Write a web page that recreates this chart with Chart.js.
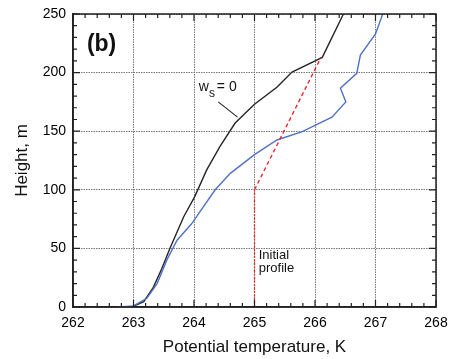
<!DOCTYPE html>
<html>
<head>
<meta charset="utf-8">
<script src="https://cdn.jsdelivr.net/npm/chart.js@4/dist/chart.umd.min.js"></script>
<style>
html,body{margin:0;padding:0;background:#fff;}
#wrap{width:452px;height:359px;}
</style>
</head>
<body>
<div id="wrap"><canvas id="c" width="452" height="359"></canvas></div>
<script>
// ---- data ----
const xTicks = [262, 263, 264, 265, 266, 267, 268];
const yTicks = [0, 50, 100, 150, 200, 250];

const blackX = [262.97, 263.17, 263.33, 263.47, 263.61, 263.83, 264.01, 264.21, 264.43, 264.68, 265.0, 265.37, 265.62, 266.12, 266.47];
const blackY = [0, 4.5, 17, 33, 51, 77, 94, 117, 137, 157, 173, 187.5, 200.5, 213, 250];

const blueX = [262.75, 263.0, 263.22, 263.39, 263.55, 263.72, 263.96, 264.35, 264.6, 265.0, 265.37, 265.79, 266.0, 266.28, 266.51, 266.42, 266.69, 266.75, 267.0, 267.12];
const blueY = [0, 1, 7.4, 20, 40, 57, 71, 100, 114, 130, 142.5, 149.6, 155, 162, 175, 186.6, 199.4, 215, 233, 250];

const initLowX = [265, 265];
const initLowY = [0, 100];
const initUpX = [265, 266.1];
const initUpY = [100, 213];

const leaderX = [264.40, 264.72];
const leaderY = [175, 162];

const panelLabel = "(b)";
const wsLabel = ["w", "s", " = 0"];
const initialLabel = ["Initial", "profile"];

function pts(xs, ys){ return xs.map((x,i)=>({x:x, y:ys[i]})); }

const FONT = "'Liberation Sans', Arial, Helvetica, sans-serif";

const framePlugin = {
  id: 'frame',
  afterDatasetsDraw(chart){
    const {ctx, chartArea:a, scales:{x, y}} = chart;
    ctx.save();
    ctx.strokeStyle = '#222';
    ctx.lineWidth = 1.5;
    ctx.strokeRect(a.left, a.top, a.right - a.left, a.bottom - a.top);
    ctx.lineWidth = 1.2;
    ctx.beginPath();
    for (let i = 0; i <= 30; i++) {
      const v = 262 + i * 0.2;
      const px = x.getPixelForValue(v);
      const len = (i % 5 === 0) ? 7 : 4;
      ctx.moveTo(px, a.bottom); ctx.lineTo(px, a.bottom - len);
      ctx.moveTo(px, a.top); ctx.lineTo(px, a.top + len);
    }
    for (let i = 0; i <= 25; i++) {
      const v = i * 10;
      const py = y.getPixelForValue(v);
      const len = (i % 5 === 0) ? 7 : 4;
      ctx.moveTo(a.left, py); ctx.lineTo(a.left + len, py);
      ctx.moveTo(a.right, py); ctx.lineTo(a.right - len, py);
    }
    ctx.stroke();

    ctx.fillStyle = '#111';
    ctx.textBaseline = 'middle';
    ctx.textAlign = 'left';
    ctx.font = 'bold 23px ' + FONT;
    ctx.fillText(panelLabel, x.getPixelForValue(262.23), y.getPixelForValue(224));

    ctx.font = '14px ' + FONT;
    let wx = x.getPixelForValue(264.08);
    const wy = y.getPixelForValue(188);
    ctx.fillText(wsLabel[0], wx, wy);
    wx += ctx.measureText(wsLabel[0]).width;
    ctx.font = '12px ' + FONT;
    ctx.fillText(wsLabel[1], wx, wy + 7);
    wx += ctx.measureText(wsLabel[1]).width - 2;
    ctx.font = '14px ' + FONT;
    ctx.fillText(wsLabel[2], wx, wy);

    ctx.font = '13px ' + FONT;
    const ix = x.getPixelForValue(265.07);
    ctx.fillText(initialLabel[0], ix, y.getPixelForValue(44));
    ctx.fillText(initialLabel[1], ix, y.getPixelForValue(32.5));
    ctx.restore();
  }
};

new Chart(document.getElementById('c'), {
  type: 'scatter',
  data: {
    datasets: [
      {data: pts(initLowX, initLowY), borderColor: '#e8252b', borderWidth: 1.3, borderDash: [2, 1.5], showLine: true, pointRadius: 0},
      {data: pts(initUpX, initUpY), borderColor: '#e8252b', borderWidth: 1.4, borderDash: [4, 3], showLine: true, pointRadius: 0},
      {data: pts(blueX, blueY), borderColor: '#4f72c8', borderWidth: 1.4, showLine: true, pointRadius: 0, tension: 0},
      {data: pts(blackX, blackY), borderColor: '#262626', borderWidth: 1.4, showLine: true, pointRadius: 0, tension: 0},
      {data: pts(leaderX, leaderY), borderColor: '#262626', borderWidth: 1.1, showLine: true, pointRadius: 0}
    ]
  },
  options: {
    responsive: false,
    animation: false,
    events: [],
    layout: {padding: {left: 0, right: 16, top: 14, bottom: 0}},
    plugins: {legend: {display: false}, tooltip: {enabled: false}},
    scales: {
      x: {
        type: 'linear', min: 262, max: 268,
        afterBuildTicks(s){ s.ticks = xTicks.map(v => ({value: v})); },
        afterFit(s){ s.height = 52; s.paddingLeft = 0; s.paddingRight = 0; },
        ticks: {color: '#000', font: {family: FONT, size: 14}, padding: 8, maxRotation: 0},
        grid: {color: '#777', lineWidth: 1, drawTicks: false},
        border: {display: true, color: '#222', width: 1.5, dash: [1.5, 1]},
        title: {display: true, text: 'Potential temperature, K', color: '#111', font: {family: FONT, size: 17}, padding: {top: 1, bottom: 1}}
      },
      y: {
        type: 'linear', min: 0, max: 250,
        afterBuildTicks(s){ s.ticks = yTicks.map(v => ({value: v})); },
        afterFit(s){ s.width = 73; s.paddingTop = 0; s.paddingBottom = 0; },
        ticks: {color: '#000', font: {family: FONT, size: 14}, padding: 7},
        grid: {color: '#777', lineWidth: 1, drawTicks: false},
        border: {display: true, color: '#222', width: 1.5, dash: [1.5, 1]},
        title: {display: true, text: 'Height, m', color: '#111', font: {family: FONT, size: 17}, padding: {top: 12, bottom: 0}}
      }
    }
  },
  plugins: [framePlugin]
});
</script>
</body>
</html>
